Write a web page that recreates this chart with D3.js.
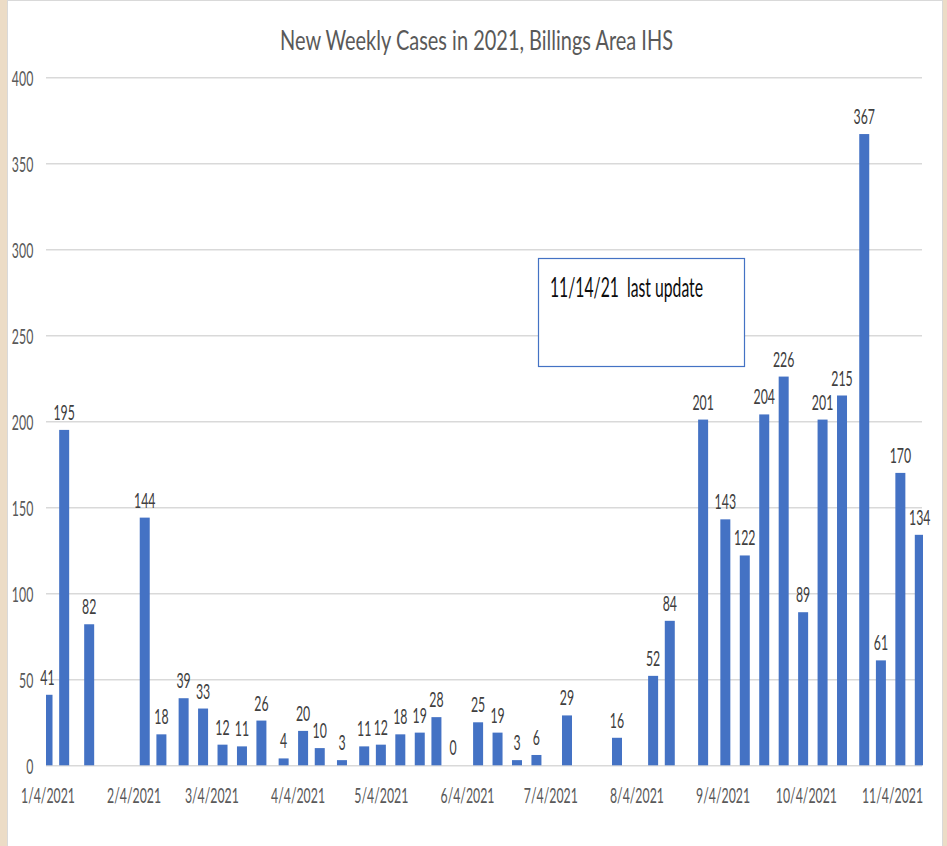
<!DOCTYPE html>
<html>
<head>
<meta charset="utf-8">
<script src="https://cdn.jsdelivr.net/npm/d3@7"></script>
<style>
  html, body { margin: 0; padding: 0; background: #ecdcc6; }
  svg { display: block; }
  text { font-family: Lato, "Open Sans", sans-serif; }
</style>
</head>
<body>
<div id="chart"></div>
<script>
// weekly report dates and new case counts
var weekDates = ["2021-01-04", "2021-01-10", "2021-01-19", "2021-02-08", "2021-02-14",
  "2021-02-22", "2021-03-01", "2021-03-08", "2021-03-15", "2021-03-22", "2021-03-30",
  "2021-04-06", "2021-04-12", "2021-04-20", "2021-04-28", "2021-05-04", "2021-05-11",
  "2021-05-18", "2021-05-24", "2021-05-30", "2021-06-08", "2021-06-15", "2021-06-22",
  "2021-06-29", "2021-07-10", "2021-07-28", "2021-08-10", "2021-08-16", "2021-08-28",
  "2021-09-05", "2021-09-12", "2021-09-19", "2021-09-26", "2021-10-03", "2021-10-10",
  "2021-10-17", "2021-10-25", "2021-10-31", "2021-11-07", "2021-11-14"];
var newCases = [41, 195, 82, 144, 18, 39, 33, 12, 11, 26, 4, 20, 10, 3, 11, 12, 18,
  19, 28, 0, 25, 19, 3, 6, 29, 16, 52, 84, 201, 143, 122, 204, 226, 89, 201, 215,
  367, 61, 170, 134];

// axis ticks
var xTickDates = ["2021-01-04", "2021-02-04", "2021-03-04", "2021-04-04", "2021-05-04",
  "2021-06-04", "2021-07-04", "2021-08-04", "2021-09-04", "2021-10-04", "2021-11-04"];
var yTicks = [0, 50, 100, 150, 200, 250, 300, 350, 400];

var chartTitle = "New Weekly Cases in 2021, Billings Area IHS";
var noteText = "11/14/21  last update";

var W = 947, H = 846;
var plot = {left: 46, right: 922, top: 77.3, bottom: 765.3};

var parse = d3.utcParse("%Y-%m-%d");
var fmt = d3.utcFormat("%-m/%-d/%Y");

var data = weekDates.map(function(d, i) { return {date: parse(d), value: newCases[i]}; });

var svg = d3.select("#chart").append("svg")
  .attr("width", W)
  .attr("height", H);

// white chart panel
svg.append("rect")
  .attr("x", 7.5).attr("y", 0.5)
  .attr("width", 935).attr("height", H + 5)
  .attr("fill", "#ffffff")
  .attr("stroke", "#d9d9d9");

// squeeze text horizontally (the source has narrow lettering)
function squeeze(sel, k) {
  sel.each(function() {
    var w = this.getComputedTextLength();
    d3.select(this).attr("textLength", w * k).attr("lengthAdjust", "spacingAndGlyphs");
  });
}

var x = d3.scaleUtc()
  .domain([new Date(Date.UTC(2021, 0, 3, 11)), new Date(Date.UTC(2021, 10, 14, 19))])
  .range([plot.left, plot.right]);

var y = d3.scaleLinear()
  .domain([0, 400])
  .range([plot.bottom, plot.top]);

// y axis + gridlines
var yAxis = svg.append("g")
  .attr("transform", "translate(" + plot.left + ",0)")
  .call(d3.axisLeft(y).tickValues(yTicks).tickSize(-(plot.right - plot.left)).tickPadding(12.7));
yAxis.select(".domain").remove();
yAxis.selectAll(".tick line").attr("stroke", "#d9d9d9").attr("stroke-width", 1.5);
yAxis.selectAll(".tick text")
  .attr("dy", "0.36em")
  .attr("fill", "#595959")
  .style("font-size", "22px")
  .call(squeeze, 0.56);

// x axis labels
var xAxis = svg.append("g")
  .attr("transform", "translate(0," + plot.bottom + ")")
  .call(d3.axisBottom(x).tickValues(xTickDates.map(parse)).tickFormat(fmt).tickSize(0));
xAxis.select(".domain").remove();
xAxis.selectAll(".tick text")
  .attr("y", 38).attr("dy", 0)
  .attr("fill", "#595959")
  .style("font-size", "22px")
  .call(squeeze, 0.56);

// bars
svg.append("clipPath").attr("id", "plotclip")
  .append("rect")
  .attr("x", plot.left).attr("y", 0)
  .attr("width", plot.right - plot.left + 1).attr("height", H);

var barW = 10;
svg.append("g")
  .attr("clip-path", "url(#plotclip)")
  .selectAll("rect")
  .data(data)
  .enter()
  .append("rect")
  .attr("x", function(d) { return x(d.date) - barW / 2; })
  .attr("y", function(d) { return y(d.value); })
  .attr("width", barW)
  .attr("height", function(d) { return y(0) - y(d.value); })
  .attr("fill", "#4472c4");

// data labels
svg.append("g")
  .selectAll("text")
  .data(data)
  .enter()
  .append("text")
  .attr("x", function(d) { return x(d.date); })
  .attr("y", function(d) { return y(d.value) - 10; })
  .attr("text-anchor", "middle")
  .attr("fill", "#404040")
  .style("font-size", "22px")
  .text(function(d) { return d.value; })
  .call(squeeze, 0.56);

// title
svg.append("text")
  .attr("x", 476.5).attr("y", 50)
  .attr("text-anchor", "middle")
  .attr("fill", "#595959")
  .style("font-size", "27px")
  .attr("textLength", 393).attr("lengthAdjust", "spacingAndGlyphs")
  .text(chartTitle);

// "last update" text box
svg.append("rect")
  .attr("x", 538.5).attr("y", 258.5)
  .attr("width", 206).attr("height", 108)
  .attr("fill", "#ffffff")
  .attr("stroke", "#4472c4")
  .attr("stroke-width", 1.2);
svg.append("text")
  .attr("x", 550).attr("y", 296.5)
  .attr("fill", "#0d0d0d")
  .style("font-size", "26px")
  .style("white-space", "pre")
  .attr("textLength", 153).attr("lengthAdjust", "spacingAndGlyphs")
  .text(noteText);
</script>
</body>
</html>
